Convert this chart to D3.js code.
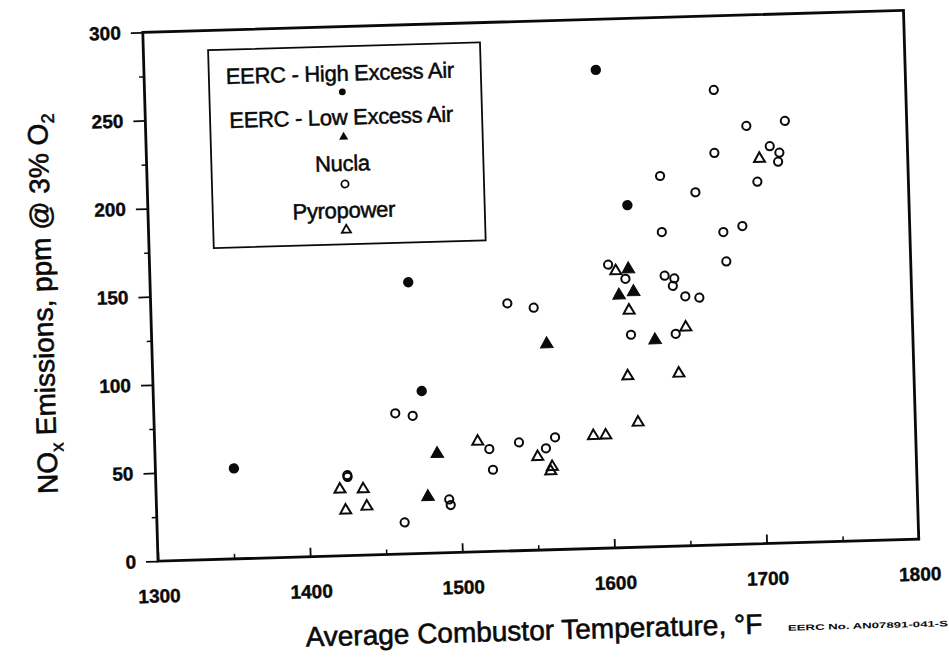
<!DOCTYPE html>
<html><head><meta charset="utf-8">
<script src="https://cdn.jsdelivr.net/npm/d3@7"></script>
<style>html,body{margin:0;padding:0;background:#fff;}svg{display:block;}</style>
</head><body>
<script>
// ---- data ----
const xTicks = [1300, 1400, 1500, 1600, 1700, 1800];
const yTicks = [0, 50, 100, 150, 200, 250, 300];
const xMinor = [1350, 1450, 1550, 1650, 1750];
const yMinor = [25, 75, 125, 175, 225, 275];
const seriesNames = ["EERC - High Excess Air", "EERC - Low Excess Air", "Nucla", "Pyropower"];

const highTemp = [1351.6, 1469.6, 1476.4, 1596.8, 1615.0];
const highNox  = [51.3, 154.0, 92.1, 271.3, 194.1];

const lowTemp = [1485.4, 1478.5, 1559.4, 1614.4, 1607.8, 1617.4, 1630.6];
const lowNox  = [56.3, 32.0, 116.7, 157.8, 143.1, 144.8, 117.2];

const nuclaTemp = [1673.9,1694.6,1720.0,1709.6,1715.8,1714.8,1673.1,1637.0,1700.8,1659.9,1637.1,1677.5,1690.1,1678.9,1601.2,1612.3,1638.1,1644.4,1643.3,1651.3,1660.5,1534.3,1551.5,1614.9,1644.3,1458.6,1470.0,1519.7,1539.3,1563.1,1556.9,1521.7,1425.9,1426.1,1492.4,1493.3,1462.7];
const nuclaNox  = [258.0,237.1,239.3,225.2,221.4,216.3,222.3,210.1,205.3,200.3,178.3,177.3,180.4,160.6,160.7,152.4,153.5,151.8,147.6,141.5,140.5,140.4,137.5,120.6,120.4,79.9,78.2,58.1,61.4,63.7,57.6,46.3,45.6,44.6,30.2,27.0,17.9];

const pyroTemp = [1702.6,1606.1,1614.1,1651.0,1612.0,1645.6,1617.9,1588.3,1596.4,1512.2,1551.3,1560.7,1559.6,1420.8,1436.1,1424.2,1438.2];
const pyroNox  = [218.3,157.0,134.4,123.9,97.2,97.9,70.8,63.9,64.0,62.6,52.9,47.0,44.6,37.7,37.5,25.7,27.6];

// ---- layout ----
const W = 949, H = 661;
const L = 150.25, T = 21.25, PW = 761, PH = 529;
const ROT = -1.65, CX = L + PW/2, CY = T + PH/2;
const FONT = "'Liberation Sans', Arial, Helvetica, sans-serif";
const INK = "#0a0a0a";

const svg = d3.select("body").append("svg").attr("width", W).attr("height", H)
  .style("font-family", FONT);
svg.append("rect").attr("width", W).attr("height", H).attr("fill", "#fff");
const g = svg.append("g").attr("transform", `rotate(${ROT},${CX},${CY})`);

const x = d3.scaleLinear().domain([1300, 1800]).range([L, L + PW]);
const y = d3.scaleLinear().domain([0, 300]).range([T + PH, T]);

// minor ticks
g.append("g").attr("transform", `translate(${L},0)`)
  .call(d3.axisLeft(y).tickValues(yMinor).tickSize(5).tickFormat(""))
  .call(s => s.select(".domain").remove())
  .selectAll("line").attr("stroke", INK).attr("stroke-width", 1.5);
g.append("g").attr("transform", `translate(0,${T+PH})`)
  .call(d3.axisBottom(x).tickValues(xMinor).tickSize(-5).tickFormat(""))
  .call(s => s.select(".domain").remove())
  .selectAll("line").attr("stroke", INK).attr("stroke-width", 1.5);

// major axes
const yAx = g.append("g").attr("transform", `translate(${L},0)`)
  .call(d3.axisLeft(y).tickValues(yTicks).tickSize(12).tickPadding(10).tickFormat(d3.format("d")));
const xAx = g.append("g").attr("transform", `translate(0,${T+PH})`)
  .call(d3.axisBottom(x).tickValues(xTicks).tickSize(-9).tickPadding(28).tickFormat(d3.format("d")));
[yAx, xAx].forEach(a => {
  a.select(".domain").remove();
  a.selectAll("line").attr("stroke", INK).attr("stroke-width", 1.8);
  a.selectAll("text").attr("fill", INK).style("font-family", FONT)
    .style("font-size", "19px").style("font-weight", "bold")
    .attr("stroke", INK).attr("stroke-width", 0.4);
});

// frame
g.append("rect").attr("x", L).attr("y", T).attr("width", PW).attr("height", PH)
  .attr("fill", "none").attr("stroke", INK).attr("stroke-width", 2.8);

// axis titles
g.append("text").attr("x", 524).attr("y", 640).attr("text-anchor", "middle")
  .attr("fill", INK).attr("stroke", INK).attr("stroke-width", 0.6)
  .style("font-size", "28px")
  .text("Average Combustor Temperature, °F");
g.append("text").attr("x", 858).attr("y", 638).attr("text-anchor", "middle")
  .attr("fill", INK).style("font-size", "8px").style("font-weight", "bold")
  .attr("textLength", 160).attr("lengthAdjust", "spacingAndGlyphs")
  .text("EERC No. AN07891-041-S");

const yt = g.append("text").attr("transform", `translate(52,${CY + 4}) rotate(-90)`)
  .attr("text-anchor", "middle").attr("fill", INK).attr("stroke", INK).attr("stroke-width", 0.6)
  .style("font-size", "28px");
yt.append("tspan").text("NO");
yt.append("tspan").attr("dy", 7).style("font-size", "18px").text("x");
yt.append("tspan").attr("dy", -7).text(" Emissions, ppm @ 3% O");
yt.append("tspan").attr("dy", 7).style("font-size", "18px").text("2");

// markers
const tri = (size) => d3.symbol().type(d3.symbolTriangle).size(size)();
const plot = g.append("g");
plot.selectAll(".hi").data(d3.zip(highTemp, highNox)).join("circle")
  .attr("cx", d => x(d[0])).attr("cy", d => y(d[1])).attr("r", 5.2).attr("fill", INK);
plot.selectAll(".nu").data(d3.zip(nuclaTemp, nuclaNox)).join("circle")
  .attr("cx", d => x(d[0])).attr("cy", d => y(d[1])).attr("r", 4.1)
  .attr("fill", "none").attr("stroke", INK).attr("stroke-width", 2);
plot.selectAll(".py").data(d3.zip(pyroTemp, pyroNox)).join("path")
  .attr("transform", d => `translate(${x(d[0])},${y(d[1])})`).attr("d", tri(52))
  .attr("fill", "none").attr("stroke", INK).attr("stroke-width", 2);
plot.selectAll(".lo").data(d3.zip(lowTemp, lowNox)).join("path")
  .attr("transform", d => `translate(${x(d[0])},${y(d[1])})`).attr("d", tri(70))
  .attr("fill", INK).attr("stroke", INK).attr("stroke-width", 1);

// legend
const lg = g.append("g").attr("transform", "translate(215,41)");
lg.append("rect").attr("width", 272).attr("height", 198).attr("fill", "#fff")
  .attr("stroke", INK).attr("stroke-width", 1.8);
const textY = [26.5, 70.5, 116.6, 163.7];
const markY = [45.6, 90.6, 137.7, 183.7];
lg.selectAll("text.lt").data(seriesNames).join("text").attr("class", "lt")
  .attr("x", 131).attr("y", (d, i) => textY[i]).attr("dy", "0.36em")
  .attr("text-anchor", "middle").attr("fill", INK).attr("stroke", INK).attr("stroke-width", 0.5)
  .style("font-size", "22px").style("letter-spacing", "-0.3px").text(d => d);
lg.append("circle").attr("cx", 133).attr("cy", markY[0]).attr("r", 3.4).attr("fill", INK);
lg.append("path").attr("transform", `translate(133,${markY[1]})`).attr("d", tri(36)).attr("fill", INK);
lg.append("circle").attr("cx", 133).attr("cy", markY[2]).attr("r", 3.6)
  .attr("fill", "none").attr("stroke", INK).attr("stroke-width", 1.8);
lg.append("path").attr("transform", `translate(133,${markY[3]})`).attr("d", tri(36))
  .attr("fill", "none").attr("stroke", INK).attr("stroke-width", 1.8);
</script>
</body></html>
